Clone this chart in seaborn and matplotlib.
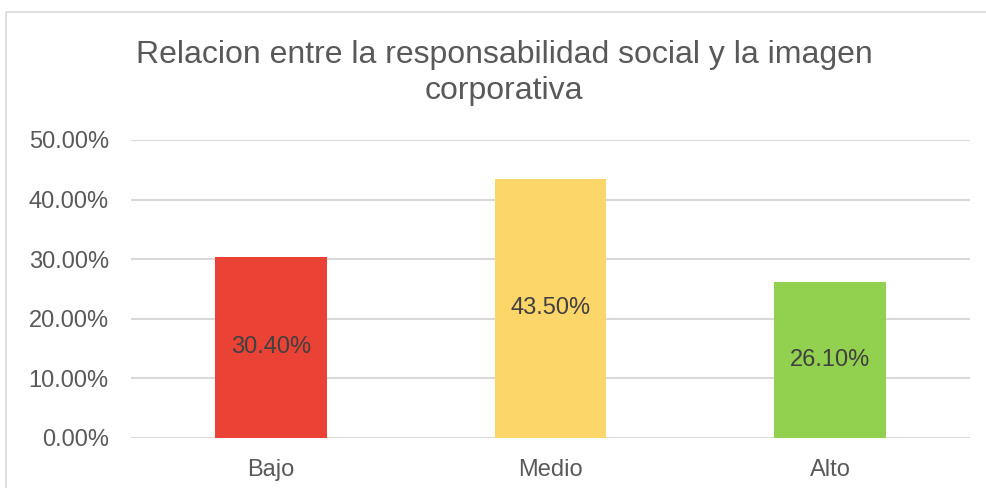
import matplotlib
matplotlib.use("Agg")
import matplotlib.pyplot as plt
import seaborn as sns
import pandas as pd
from matplotlib.patches import Rectangle
from matplotlib.ticker import FuncFormatter

categories = ["Bajo", "Medio", "Alto"]
values = [0.304, 0.435, 0.261]
bar_colors = ["#EA4335", "#FDD66A", "#92D050"]
title = "Relacion entre la responsabilidad social y la imagen\ncorporativa"

sns.set_theme(style="white")
plt.rcParams["font.family"] = ["Liberation Sans", "DejaVu Sans"]

W, H = 986, 488
fig = plt.figure(figsize=(W / 100, H / 100), dpi=100)
fig.patch.set_facecolor("white")

# chart border (extends beyond right/bottom edges)
fig.add_artist(Rectangle((5.5 / W, -0.1), 1.2, 1 - 12.5 / H + 0.1,
                         transform=fig.transFigure, fill=False,
                         edgecolor="#D9D9D9", linewidth=1.2))

left, right, top, bottom = 131, 970, 140, 438
ax = fig.add_axes([left / W, (H - bottom) / H, (right - left) / W, (bottom - top) / H])

df = pd.DataFrame({"cat": categories, "val": values})
sns.barplot(data=df, x="cat", y="val", hue="cat", palette=bar_colors,
            width=0.4, legend=False, ax=ax, saturation=1, zorder=3,
            linewidth=0)

ax.set_ylim(0, 0.5)
ax.set_yticks([0, 0.1, 0.2, 0.3, 0.4, 0.5])
ax.yaxis.set_major_formatter(FuncFormatter(lambda v, p: f"{v*100:.2f}%"))
ax.grid(axis="y", color="#D9D9D9", linewidth=1.5, zorder=0)
ax.set_axisbelow(True)
for s in ax.spines.values():
    s.set_visible(False)
ax.set_xlabel("")
ax.set_ylabel("")
ax.tick_params(axis="both", length=0, labelsize=17, colors="#595959")
ax.tick_params(axis="y", pad=16)
ax.tick_params(axis="x", pad=15)

for c in ax.containers:
    ax.bar_label(c, labels=[f"{v*100:.2f}%" for v in c.datavalues],
                 label_type="center", fontsize=17, color="#404040")

fig.text(504 / W, 1 - 73 / H, title, ha="center", va="center",
         fontsize=23, color="#595959", linespacing=1.3)

fig.savefig("out.png", dpi=100)
